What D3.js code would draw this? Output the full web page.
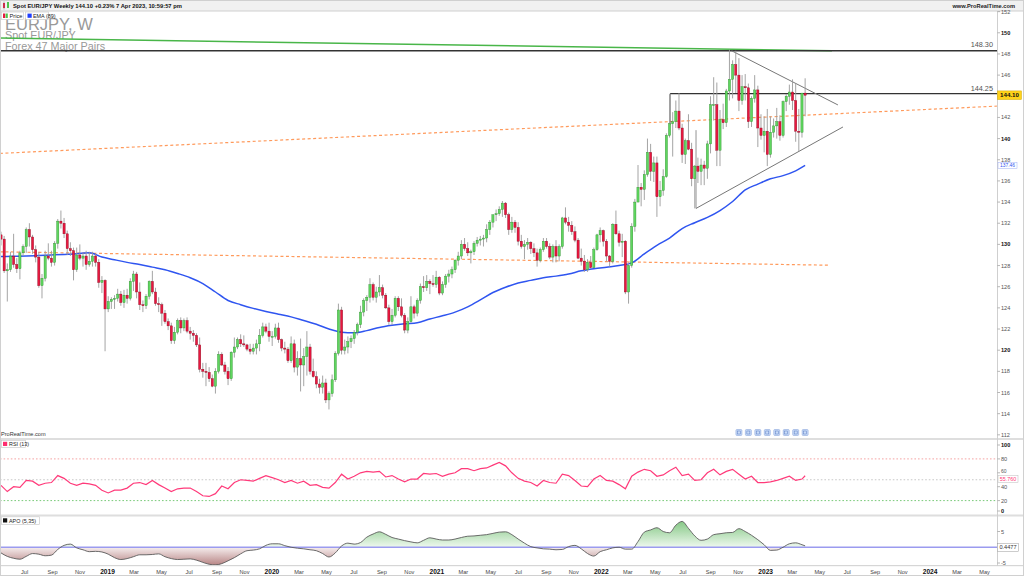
<!DOCTYPE html>
<html><head><meta charset="utf-8">
<script src="https://cdn.jsdelivr.net/npm/d3@7"></script>
<style>
html,body{margin:0;padding:0;background:#fff;}
svg{display:block;font-family:"Liberation Sans",Arial,sans-serif;}
</style></head><body>
<svg id="c" width="1024" height="576"></svg>
<script>
// ---------- DATA (weekly EUR/JPY, first week = 14 May 2018) ----------
const firstWeek = [2018, 4, 14];
const ohlc2018 = [
[130.9,131.2,129.9,130.5],[130.5,130.8,127.3,127.5],[127.5,128.2,124.6,127.6],[127.6,129.3,127.4,128.9],
[128.9,131.0,127.8,128.1],[128.1,128.7,127.3,127.7],[127.7,129.4,126.7,129.2],[129.2,130.0,128.9,129.8],
[129.8,131.6,129.2,131.4],[131.4,132.0,129.8,130.7],[130.7,130.9,129.1,129.5],[129.5,129.9,128.3,128.8],
[128.8,129.3,125.9,126.1],[126.1,127.2,124.9,126.8],[126.8,129.4,126.5,128.9],[128.9,130.1,128.5,128.7],
[128.7,129.4,127.9,128.3],[128.3,130.3,128.0,130.1],[130.1,132.4,129.6,132.2],[132.2,133.2,131.5,132.0],
[132.0,132.5,130.6,131.0],[131.0,131.3,129.0,129.6],[129.6,130.2,128.9,129.4],[129.4,129.7,126.6,127.6],
[127.6,129.7,127.4,129.0],[129.0,130.0,128.5,128.7],[128.7,129.2,127.9,128.9],[128.9,129.4,127.6,128.1],
[128.1,129.3,127.9,128.4],[128.4,129.3,127.9,128.9],[128.9,129.1,127.9,128.3],[128.3,128.6,125.9,126.4],
[126.4,127.0,125.4,126.6]];
const ohlc2019 = [
[126.6,126.7,119.9,123.9],
[123.9,125.1,123.6,124.6],[124.6,125.0,123.9,124.8],[124.8,125.2,123.9,124.9],[124.9,125.8,124.6,125.3],
[125.3,125.6,124.2,124.5],[124.5,125.7,124.0,125.2],[125.2,125.8,124.4,124.9],[124.9,126.8,124.7,126.5],
[126.5,127.5,125.6,127.2],[127.2,127.4,124.9,125.5],[125.5,126.4,123.8,124.3],[124.3,124.7,123.6,124.2],
[124.2,125.3,123.9,125.1],[125.1,126.6,124.8,126.5],[126.5,127.5,125.3,125.5],[125.5,125.9,124.2,124.4],
[124.4,125.0,123.6,124.3],[124.3,124.5,122.3,123.5],[123.5,123.8,122.5,122.7],[122.7,123.0,121.9,122.3],
[122.3,122.6,120.6,120.9],[120.9,122.2,120.6,121.7],[121.7,123.0,121.5,122.8],[122.8,123.1,121.6,122.1],
[122.1,123.0,121.8,122.8],[122.8,123.1,121.6,121.8],[121.8,122.2,121.0,121.6],[121.6,121.9,120.8,121.4],
[121.4,121.6,120.3,120.5],[120.5,121.2,117.9,118.2],[118.2,118.8,117.4,118.0],[118.0,118.8,116.6,117.9],
[117.9,118.4,117.0,117.3],[117.3,117.7,116.5,116.6],[116.6,118.3,115.9,118.0],[118.0,119.9,117.8,119.6],
[119.6,119.8,118.5,118.6],[118.6,118.9,117.7,118.0],[118.0,118.4,116.7,117.3],[117.3,119.9,117.1,119.8],
[119.8,121.2,119.3,120.3],[120.3,121.2,120.1,121.0],[121.0,121.5,120.3,120.6],[120.6,121.4,120.3,120.5],
[120.5,120.6,119.9,120.1],[120.1,120.6,119.6,119.9],[119.9,120.6,119.6,120.2],[120.2,121.0,119.6,120.6],
[120.6,122.0,119.9,121.4],[121.4,122.6,121.2,122.2],[122.2,122.5,121.6,121.8],[121.8,122.6,120.8,121.3]];
const ohlc2020 = [
[121.3,121.8,120.4,121.3],[121.3,122.5,121.1,122.1],[122.1,122.6,120.7,121.0],[121.0,121.1,119.9,120.2],
[120.2,120.8,119.7,120.1],[120.1,120.3,118.8,119.0],[119.0,121.3,118.8,120.6],[120.6,121.0,117.9,118.4],
[118.4,119.9,117.6,119.2],[119.2,121.1,116.1,118.6],[118.6,120.2,116.6,119.4],[119.4,121.8,117.6,120.3],
[120.3,120.6,117.7,118.0],[118.0,119.2,117.4,117.5],[117.5,118.0,116.4,116.8],[116.8,117.3,115.9,116.5],
[116.5,117.6,115.9,116.9],[116.9,117.3,115.0,115.3],[115.3,116.1,114.4,115.9],[115.9,117.7,115.6,117.2],
[117.2,119.9,117.0,119.7],[119.7,124.4,119.5,123.8],[123.8,124.1,119.6,120.0],[120.0,121.0,119.6,120.3],
[120.3,121.3,119.7,120.8],[120.8,121.4,120.2,121.1],[121.1,121.9,120.6,121.7],[121.7,122.6,121.4,122.4],
[122.4,124.2,122.1,123.6],[123.6,124.9,123.2,124.7],[124.7,125.2,123.7,125.0],[125.0,126.8,124.5,126.2],
[126.2,126.4,124.7,125.0],[125.0,126.0,124.5,125.5],[125.5,127.1,125.1,125.9],[125.9,126.2,124.9,125.2],
[125.2,125.4,123.9,124.0],[124.0,124.3,122.4,122.7],[122.7,123.9,122.4,123.3],[123.3,125.1,123.1,124.9],
[124.9,125.1,123.7,124.1],[124.1,124.9,123.1,123.3],[123.3,123.5,121.6,121.9],[121.9,123.1,121.6,122.7],
[122.7,125.1,122.6,124.1],[124.1,124.3,123.0,123.5],[123.5,124.9,123.2,124.7],[124.7,126.3,124.4,126.0],
[126.0,127.0,125.5,125.9],[125.9,127.1,125.6,126.5],[126.5,126.7,125.3,126.3],[126.3,127.1,126.0,126.2]];
const ohlc2021 = [
[126.2,127.5,125.9,126.9],[126.9,127.0,125.2,125.4],[125.4,126.5,125.2,126.2],[126.2,127.2,125.9,127.0],
[127.0,127.6,126.4,127.2],[127.2,127.9,126.8,127.6],[127.6,128.6,127.3,128.5],[128.5,129.3,128.0,128.9],
[128.9,130.4,128.6,130.0],[130.0,130.6,129.4,129.6],[129.6,130.2,128.9,129.2],[129.2,129.5,128.2,129.3],
[129.3,130.3,129.0,130.1],[130.1,130.7,129.8,130.4],[130.4,130.8,129.9,130.5],[130.5,130.9,129.8,130.6],
[130.6,131.9,130.2,131.4],[131.4,132.3,130.9,132.1],[132.1,132.8,131.6,132.8],[132.8,133.3,132.2,132.9],
[132.9,133.6,132.7,133.3],[133.3,134.1,132.6,133.9],[133.9,134.0,132.5,132.8],[132.8,133.0,130.9,131.4],
[131.4,132.6,131.1,132.1],[132.1,132.3,131.1,131.6],[131.6,132.1,129.9,130.3],[130.3,130.9,129.6,129.8],
[129.8,130.4,128.6,130.0],[130.0,130.6,129.5,130.2],[130.2,130.3,129.1,129.6],[129.6,130.1,128.8,129.2],
[129.2,129.6,127.9,128.5],[128.5,129.7,128.3,129.5],[129.5,130.6,129.3,130.3],[130.3,130.6,129.6,129.8],
[129.8,130.1,128.6,128.8],[128.8,130.0,128.3,129.8],[129.8,130.4,128.3,128.9],[128.9,130.0,128.4,129.8],
[129.8,132.6,129.6,132.5],[132.5,133.5,131.9,132.1],[132.1,132.6,131.2,131.8],[131.8,132.2,130.9,131.2],
[131.2,131.7,130.2,130.4],[130.4,130.6,128.6,128.7],[128.7,129.6,128.0,128.4],[128.4,129.0,127.4,127.6],
[127.6,128.6,127.4,128.3],[128.3,128.9,127.7,127.8],[127.8,129.7,127.8,129.5],[129.5,131.0,129.4,130.9]];
const ohlc2022 = [
[130.9,131.6,130.2,131.3],[131.3,131.4,129.8,130.3],[130.3,130.5,128.4,128.9],[128.9,129.0,127.9,128.4],
[128.4,132.0,128.2,131.9],[131.9,133.2,130.9,131.0],[131.0,131.3,129.8,130.2],[130.2,131.0,128.8,130.3],
[130.3,130.4,125.3,125.5],[125.5,128.3,124.4,128.0],[128.0,132.0,127.8,131.7],[131.7,134.3,131.2,134.0],
[134.0,137.5,134.0,135.4],[135.4,135.8,133.6,135.2],[135.2,137.0,134.2,136.6],[136.6,140.0,136.4,138.7],
[138.7,139.5,136.0,136.9],[136.9,138.3,135.9,137.7],[137.7,138.3,132.6,134.5],[134.5,136.0,133.6,135.1],
[135.1,137.1,134.6,136.4],[136.4,140.5,136.3,140.3],[140.3,144.2,140.1,141.4],[141.4,142.5,138.3,141.6],
[141.6,143.6,141.0,142.6],[142.6,144.3,140.8,141.0],[141.0,141.4,137.7,138.5],[138.5,140.0,137.6,139.8],
[139.8,142.3,138.9,139.0],[139.0,139.6,135.5,136.2],[136.2,137.5,133.4,137.4],[137.4,138.2,135.8,136.9],
[136.9,138.1,135.6,137.5],[137.5,137.9,135.6,137.2],[137.2,139.8,136.2,139.5],[139.5,144.0,138.6,143.2],
[143.2,145.8,141.7,143.2],[143.2,145.3,137.4,138.9],[138.9,142.7,137.4,141.8],[141.8,143.3,140.9,141.5],
[141.5,144.7,141.1,144.5],[144.5,148.4,143.6,145.6],[145.6,147.4,143.8,147.0],[147.0,148.3,144.3,146.0],
[146.0,147.6,142.6,143.6],[143.6,146.0,143.2,144.9],[144.9,146.1,143.6,144.8],[144.8,145.2,141.0,141.6],
[141.6,144.0,141.1,143.8],[143.8,146.0,143.4,144.6],[144.6,145.0,139.2,141.0],[141.0,142.3,139.9,140.3]];
const ohlc2023 = [
[140.3,142.1,138.7,140.7],[140.7,142.8,137.4,138.5],[138.5,142.1,138.2,140.6],[140.6,141.9,140.1,141.2],
[141.2,142.9,140.0,141.6],[141.6,142.2,139.8,140.3],[140.3,143.6,140.1,143.5],[143.5,144.2,142.6,144.0],
[144.0,145.1,143.2,144.4],[144.4,145.6,142.7,143.6],[143.6,145.2,139.7,140.7],[140.7,142.8,138.8,140.6],
[140.6,144.3,140.1,144.3],[144.3,145.7,142.1,144.1]];

// EMA(89): [week index, value]
const ema89 = [[0,128.85],[4,128.87],[8,128.9],[12,128.95],[16,129.0],[20,129.05],[24,129.12],[28,129.2],
[32,128.8],[36,128.55],[40,128.3],[44,128.1],[48,127.85],[52,127.6],[56,127.25],[60,126.85],[64,126.3],
[68,125.5],[72,124.7],[76,124.3],[80,123.95],[84,123.65],[88,123.4],[92,123.15],[96,122.8],[100,122.45],
[104,122.0],[108,121.7],[112,121.65],[116,121.85],[120,122.15],[124,122.35],[128,122.5],[132,122.6],
[136,122.95],[140,123.25],[144,123.6],[148,124.1],[152,124.75],[156,125.45],[160,125.95],[164,126.35],
[168,126.6],[172,126.85],[176,127.0],[180,127.2],[184,127.5],[188,127.7],[192,127.85],[196,128.0],
[200,128.25],[204,129.1],[208,129.9],[212,130.6],[216,131.5],[220,132.05],[224,132.55],[228,133.2],
[232,134.05],[236,135.15],[240,135.7],[244,136.2],[248,136.5],[252,136.95],[255,137.46]];

// RSI(13): [week index, value]
const rsi13 = [[0,42],[2,33],[4,40],[6,39],[8,49],[10,48],[12,42],[14,45],[16,46],[18,56],[20,52],[22,45],
[24,42],[26,45],[28,44],[30,42],[32,35],[34,31],[36,35],[38,35],[40,38],[42,45],[44,46],[46,43],[48,49],
[50,43],[52,38],[54,33],[56,37],[58,38],[60,38],[62,33],[64,27],[66,26],[68,30],[70,41],[72,37],[74,46],
[76,50],[78,49],[80,48],[82,52],[84,56],[86,53],[88,50],[90,46],[92,49],[94,45],[96,48],[98,42],[100,43],
[102,39],[104,38],[106,46],[108,58],[110,51],[112,55],[114,60],[116,62],[118,61],[120,62],[122,54],
[124,56],[126,51],[128,47],[130,51],[132,51],[134,59],[136,58],[138,59],[140,55],[142,58],[144,60],
[146,66],[148,66],[150,63],[152,66],[154,67],[156,71],[158,75],[160,70],[162,60],[164,52],[166,48],
[168,46],[170,41],[172,49],[174,46],[176,45],[178,58],[180,56],[182,49],[184,41],[186,40],[188,51],
[190,56],[192,49],[194,48],[196,43],[198,37],[200,55],[202,61],[204,65],[206,63],[208,55],[210,57],
[212,63],[214,68],[216,56],[218,58],[220,49],[222,50],[224,60],[226,65],[228,57],[230,62],[232,65],
[234,58],[236,51],[238,55],[240,46],[242,46],[244,47],[246,49],[248,52],[250,55],[252,49],[254,51],[255,55.76]];

// APO(5,35): [week index, value]
const apo535 = [[0,-1.8],[2,-2.9],[4,-3.5],[6,-3.8],[8,-2.9],[10,-2.0],[12,-2.2],[14,-2.7],[16,-2.5],
[18,-0.7],[20,0.6],[22,1.0],[24,-0.2],[26,-0.8],[28,-1.4],[30,-1.3],[32,-1.5],[34,-2.2],[36,-3.3],
[38,-3.9],[40,-3.6],[42,-3.0],[44,-2.4],[46,-2.4],[48,-2.3],[50,-2.1],[52,-3.0],[54,-3.6],[56,-3.9],
[58,-3.8],[60,-3.7],[62,-4.1],[64,-4.8],[66,-5.4],[68,-5.6],[70,-5.2],[72,-4.3],[74,-3.3],[76,-2.1],
[78,-1.1],[80,-0.9],[82,-0.5],[84,0.6],[86,1.1],[88,1.1],[90,0.5],[92,0.0],[94,-0.3],[96,-0.5],
[98,-0.8],[100,-1.1],[102,-2.0],[104,-3.1],[106,-1.8],[108,0.4],[110,1.3],[112,1.0],[114,1.5],
[116,3.2],[118,4.2],[120,4.9],[122,4.1],[124,3.1],[126,2.6],[128,2.1],[130,1.7],[132,1.4],[134,2.2],
[136,3.0],[138,2.6],[140,2.3],[142,2.3],[144,2.6],[146,3.1],[148,3.5],[150,3.6],[152,3.8],[154,4.0],
[156,4.4],[158,4.8],[160,4.9],[162,4.0],[164,2.6],[166,1.3],[168,0.2],[170,-0.2],[172,-0.5],[174,-0.6],
[176,-0.8],[178,-0.7],[180,0.2],[182,0.6],[184,-0.5],[186,-2.0],[188,-2.8],[190,-1.4],[192,-0.8],
[194,-0.2],[196,0.0],[198,-0.6],[200,-0.6],[202,1.8],[204,4.8],[206,5.5],[208,6.2],[210,5.0],[212,4.6],
[214,7.0],[216,8.2],[218,6.0],[220,3.6],[222,2.2],[224,2.6],[226,4.0],[228,4.3],[230,4.6],[232,4.7],
[234,5.9],[236,5.0],[238,3.8],[240,2.4],[242,0.8],[244,-1.0],[246,-0.9],[248,0.0],[250,1.1],[252,1.4],
[254,0.8],[255,0.4477]];

// drawn lines: [week index, price]
const greenTrend = [[-0.32,149.5],[263.5,148.3]];
const levelTop = 148.30;
const levelMid = 144.25, levelMidStart = 212.2;
const triUpper = [[231.7,148.3],[265.4,143.18]];
const triLower = [[220.4,133.4],[267.0,141.1]];
const triLeft = [[220.4,133.4],[220.4,140.8]];
const orangeUpper = [[-0.32,138.6],[315.8,143.07]];
const orangeLower = [[-0.32,129.3],[262.9,128.03]];
const eventWeeks = [234,237,240,243,246,249,252,255];
const priceTicks = d3.range(112,153,2);
const rsiTicks = [100,80,60,40,20,0];
const apoTicks = [5,-5];
const lastPrice = 144.10, lastEma = 137.46, lastRsi = 55.760, lastApo = 0.4477;

// ---------- SCALES ----------
const DAY = 864e5;
const t0 = new Date(firstWeek[0], firstWeek[1], firstWeek[2]).getTime();
const wdate = k => new Date(t0 + k*7*DAY);
const PR = 997;
const x = d3.scaleTime().domain([new Date(t0-2.22*DAY), new Date(t0+2210.9*DAY)]).range([0,PR]);
const y = d3.scaleLinear().domain([111.7,152.06]).range([438,11]);
const yR = d3.scaleLinear().domain([0,100]).range([514.5,445]);
const yA = d3.scaleLinear().domain([-5,5]).range([563,531.5]);
const xk = k => x(wdate(k));

const candles = [...ohlc2018,...ohlc2019,...ohlc2020,...ohlc2021,...ohlc2022,...ohlc2023]
  .map((d,i)=>({k:i,o:d[0],h:d[1],l:d[2],c:d[3]}));

const svg = d3.select("#c");
const defs = svg.append("defs");
function clip(id,x0,y0,w,h){defs.append("clipPath").attr("id",id).append("rect").attr("x",x0).attr("y",y0).attr("width",w).attr("height",h);}
clip("cm",0,11.5,PR,426.5); clip("cr",0,440,PR,74); clip("ca",0,516.5,PR,48.5);
clip("apos",0,516.5,PR,yA(0)-516.5); clip("aneg",0,yA(0),PR,565-yA(0));
const gp = defs.append("linearGradient").attr("id","gpos").attr("gradientUnits","userSpaceOnUse")
  .attr("x1",0).attr("x2",0).attr("y1",519).attr("y2",yA(0));
gp.append("stop").attr("offset",0).attr("stop-color","#7cc47c");
gp.append("stop").attr("offset",1).attr("stop-color","#eef8ee");
const gn = defs.append("linearGradient").attr("id","gneg").attr("gradientUnits","userSpaceOnUse")
  .attr("x1",0).attr("x2",0).attr("y1",yA(0)).attr("y2",565);
gn.append("stop").attr("offset",0).attr("stop-color","#f6eeee");
gn.append("stop").attr("offset",1).attr("stop-color","#b88585");

svg.append("rect").attr("width",1024).attr("height",576).attr("fill","#fff");

// header
svg.append("rect").attr("x",0).attr("y",0).attr("width",1024).attr("height",11).attr("fill","#f1f1f1");
svg.append("line").attr("x1",0).attr("x2",1024).attr("y1",11).attr("y2",11).attr("stroke","#cfcfcf");
svg.append("rect").attr("x",3).attr("y",3).attr("width",2).attr("height",5).attr("fill","#e8173f");
svg.append("line").attr("x1",4).attr("x2",4).attr("y1",1.5).attr("y2",9.5).attr("stroke","#777").attr("stroke-width",0.5);
svg.append("rect").attr("x",7).attr("y",2).attr("width",2).attr("height",6).attr("fill","#4cc44c");
svg.append("text").attr("x",13).attr("y",8.3).attr("font-size",5.8).attr("font-weight","bold").attr("fill","#111")
  .text("Spot EUR/JPY Weekly 144.10 +0.23% 7 Apr 2023, 10:59:57 pm");
svg.append("text").attr("x",1015).attr("y",8.3).attr("text-anchor","end").attr("font-size",5.7).attr("font-weight","bold").attr("fill","#222")
  .text("www.ProRealTime.com");

// watermark (drawn below the legend tabs, as in the original)
const wm = svg.append("g").attr("fill","#999");
wm.append("text").attr("x",5).attr("y",29.5).attr("font-size",16.5).text("EURJPY, W");
wm.append("text").attr("x",5).attr("y",38.8).attr("font-size",10.8).text("Spot EUR/JPY");
wm.append("text").attr("x",5).attr("y",50).attr("font-size",10.8).text("Forex 47 Major Pairs");

// separators
svg.append("rect").attr("x",0).attr("y",438).attr("width",1024).attr("height",2).attr("fill","#dedede");
svg.append("rect").attr("x",0).attr("y",514.5).attr("width",1024).attr("height",2).attr("fill","#dedede");
svg.append("rect").attr("x",0).attr("y",565).attr("width",1024).attr("height",1.2).attr("fill","#d6d6d6");
svg.append("line").attr("x1",PR+0.5).attr("x2",PR+0.5).attr("y1",11).attr("y2",566).attr("stroke","#cfcfcf");
svg.append("line").attr("x1",0.5).attr("x2",0.5).attr("y1",11).attr("y2",566).attr("stroke","#d6d6d6");

// ---------- MAIN PANEL ----------
const gm = svg.append("g").attr("clip-path","url(#cm)");
const seg = (pts,stroke,w,dash) => gm.append("line")
  .attr("x1",xk(pts[0][0])).attr("y1",y(pts[0][1])).attr("x2",xk(pts[1][0])).attr("y2",y(pts[1][1]))
  .attr("stroke",stroke).attr("stroke-width",w).attr("stroke-dasharray",dash||null);
seg(orangeUpper,"#ff9a5c",1.2,"3,2.5");
seg(orangeLower,"#ff9a5c",1.2,"3,2.5");
seg(greenTrend,"#49b649",1.5);
gm.append("line").attr("x1",0).attr("x2",PR).attr("y1",y(levelTop)).attr("y2",y(levelTop)).attr("stroke","#333").attr("stroke-width",1.4);
gm.append("line").attr("x1",xk(levelMidStart)).attr("x2",PR).attr("y1",y(levelMid)).attr("y2",y(levelMid)).attr("stroke","#333").attr("stroke-width",1.4);
gm.append("line").attr("x1",xk(levelMidStart)).attr("x2",xk(levelMidStart)).attr("y1",y(levelMid)).attr("y2",y(141.3)).attr("stroke","#555").attr("stroke-width",0.8);
seg(triUpper,"#777",1);
seg(triLower,"#777",1);
seg(triLeft,"#777",0.8);

// EMA
gm.append("path").datum(ema89).attr("fill","none").attr("stroke","#2f55f0").attr("stroke-width",1.5)
  .attr("d",d3.line().x(d=>xk(d[0])).y(d=>y(d[1])).curve(d3.curveMonotoneX));

// candles
const bw = 2.2;
const cg = gm.append("g");
cg.selectAll("line.w").data(candles).join("line").attr("class","w")
  .attr("x1",d=>xk(d.k)).attr("x2",d=>xk(d.k)).attr("y1",d=>y(d.h)).attr("y2",d=>y(d.l))
  .attr("stroke","#9a9a9a").attr("stroke-width",0.9);
cg.selectAll("rect").data(candles).join("rect")
  .attr("x",d=>xk(d.k)-bw/2).attr("width",bw)
  .attr("y",d=>y(Math.max(d.o,d.c))).attr("height",d=>Math.max(0.8,Math.abs(y(d.o)-y(d.c))))
  .attr("fill",d=>d.c>=d.o?"#5fd65f":"#e8173f")
  .attr("stroke",d=>d.c>=d.o?"#2f8f2f":"#8a0c22").attr("stroke-width",0.4);

// level labels
svg.append("text").attr("x",993).attr("y",y(levelTop)-3.5).attr("text-anchor","end").attr("font-size",7.3).attr("fill","#555").text("148.30");
svg.append("text").attr("x",993).attr("y",y(levelMid)-2.5).attr("text-anchor","end").attr("font-size",7.3).attr("fill","#555").text("144.25");

// legend
svg.append("rect").attr("x",1.5).attr("y",12).attr("width",22).attr("height",7.5).attr("fill","#fff").attr("stroke","#c4c4c4").attr("stroke-width",0.6);
svg.append("rect").attr("x",3).attr("y",13.5).attr("width",2.2).attr("height",4.5).attr("fill","#e8173f");
svg.append("rect").attr("x",5.6).attr("y",13.5).attr("width",2.2).attr("height",4.5).attr("fill","#4cc44c");
svg.append("text").attr("x",9.5).attr("y",18).attr("font-size",5.7).attr("fill","#222").text("Price");
svg.append("rect").attr("x",25.5).attr("y",12).attr("width",23).attr("height",7.5).attr("fill","#fff").attr("stroke","#c4c4c4").attr("stroke-width",0.6);
svg.append("rect").attr("x",27.5).attr("y",13.6).attr("width",4.2).attr("height",4.2).attr("fill","#1f3fff");
svg.append("text").attr("x",33).attr("y",18).attr("font-size",5.4).attr("fill","#222").text("EMA (89)");

// ProRealTime mark + events
svg.append("text").attr("x",1).attr("y",436.3).attr("font-size",5.6).attr("fill","#333").text("ProRealTime.com");
const ev = svg.append("g");
eventWeeks.forEach(k=>{
  ev.append("rect").attr("x",xk(k)-3).attr("y",429.5).attr("width",6).attr("height",6).attr("rx",1)
    .attr("fill","#c9dbf7").attr("stroke","#7d9bd6").attr("stroke-width",0.5);
  ev.append("rect").attr("x",xk(k)-1.5).attr("y",431).attr("width",3).attr("height",3).attr("fill","none").attr("stroke","#5a7cc4").attr("stroke-width",0.5);
});

// price axis (labels hidden behind the current-price box are skipped, as in the original)
const ax = svg.append("g");
priceTicks.forEach(p=>{
  ax.append("line").attr("x1",PR+0.5).attr("x2",PR+3).attr("y1",y(p)).attr("y2",y(p)).attr("stroke","#888").attr("stroke-width",0.6);
  if (Math.abs(y(p)-y(lastPrice))<8) return;
  ax.append("text").attr("x",PR+4).attr("y",y(p)+2).attr("font-size",5.6)
    .attr("font-weight",p%10===0?"bold":"normal").attr("fill",p%10===0?"#111":"#555").text(p);
});
// current price box
ax.append("rect").attr("x",PR+0.5).attr("y",y(lastPrice)-4.3).attr("width",24).attr("height",8.6).attr("fill","#ffd21a").attr("stroke","#d4a900").attr("stroke-width",0.5);
ax.append("text").attr("x",PR+12.5).attr("y",y(lastPrice)+2.2).attr("text-anchor","middle").attr("font-size",6.2).attr("font-weight","bold").attr("fill","#111").text(lastPrice.toFixed(2));
ax.append("rect").attr("x",PR+1).attr("y",y(lastEma)-3.2).attr("width",19).attr("height",6.4).attr("fill","#fff").attr("stroke","#9fb0f5").attr("stroke-width",0.5);
ax.append("text").attr("x",PR+10.5).attr("y",y(lastEma)+1.7).attr("text-anchor","middle").attr("font-size",4.9).attr("fill","#2f55f0").text(lastEma.toFixed(2));

// ---------- RSI PANEL ----------
const gr = svg.append("g").attr("clip-path","url(#cr)");
[[80,"#f5a3a3"],[50,"#c8c8c8"],[20,"#79c979"]].forEach(([v,c])=>{
  gr.append("line").attr("x1",0).attr("x2",PR).attr("y1",yR(v)).attr("y2",yR(v)).attr("stroke",c).attr("stroke-width",1).attr("stroke-dasharray","1.6,2");
});
gr.append("path").datum(rsi13).attr("fill","none").attr("stroke","#ff3a7a").attr("stroke-width",1.2)
  .attr("d",d3.line().x(d=>xk(d[0])).y(d=>yR(d[1])));
svg.append("rect").attr("x",1.5).attr("y",440.5).attr("width",24).attr("height",7).attr("fill","#fff").attr("stroke","#c4c4c4").attr("stroke-width",0.6);
svg.append("rect").attr("x",3).attr("y",441.8).attr("width",4.2).attr("height",4.2).attr("fill","#ff2d6f");
svg.append("text").attr("x",9).attr("y",446.2).attr("font-size",5.4).attr("fill","#222").text("RSI (13)");
rsiTicks.forEach(v=>{
  const yy = Math.min(yR(v),511);
  svg.append("line").attr("x1",PR+0.5).attr("x2",PR+3).attr("y1",yy).attr("y2",yy).attr("stroke","#888").attr("stroke-width",0.6);
  svg.append("text").attr("x",PR+4).attr("y",(v===60?yy+0.6:yy+2)).attr("font-size",(v===60?5:5.6))
    .attr("font-weight",(v===100||v===0)?"bold":"normal").attr("fill",(v===100||v===0)?"#111":"#555").text(v);
});
svg.append("rect").attr("x",PR+1).attr("y",yR(lastRsi)-0.5).attr("width",20).attr("height",7.5).attr("fill","#fff").attr("stroke","#bbb").attr("stroke-width",0.5);
svg.append("text").attr("x",PR+11).attr("y",yR(lastRsi)+5).attr("text-anchor","middle").attr("font-size",5.4).attr("fill","#ff3a7a").text(lastRsi.toFixed(3));

// ---------- APO PANEL ----------
const ga = svg.append("g").attr("clip-path","url(#ca)");
const apoArea = d3.area().x(d=>xk(d[0])).y0(yA(0)).y1(d=>yA(d[1])).curve(d3.curveMonotoneX);
ga.append("path").datum(apo535).attr("d",apoArea).attr("fill","url(#gpos)").attr("clip-path","url(#apos)");
ga.append("path").datum(apo535).attr("d",apoArea).attr("fill","url(#gneg)").attr("clip-path","url(#aneg)");
ga.append("line").attr("x1",0).attr("x2",PR).attr("y1",yA(0)).attr("y2",yA(0)).attr("stroke","#9b9bef").attr("stroke-width",1.6);
ga.append("path").datum(apo535).attr("fill","none").attr("stroke","#5a5a5a").attr("stroke-width",0.9)
  .attr("d",d3.line().x(d=>xk(d[0])).y(d=>yA(d[1])).curve(d3.curveMonotoneX));
svg.append("rect").attr("x",1.5).attr("y",516.8).attr("width",38).attr("height",7.5).attr("fill","#fff").attr("stroke","#c4c4c4").attr("stroke-width",0.6);
svg.append("rect").attr("x",3).attr("y",518.3).attr("width",4.2).attr("height",4.2).attr("fill","#111");
svg.append("text").attr("x",9).attr("y",522.6).attr("font-size",5.4).attr("fill","#222").text("APO (5,35)");
apoTicks.forEach(v=>{
  svg.append("line").attr("x1",PR+0.5).attr("x2",PR+3).attr("y1",yA(v)).attr("y2",yA(v)).attr("stroke","#888").attr("stroke-width",0.6);
  svg.append("text").attr("x",PR+4).attr("y",yA(v)+2).attr("font-size",5.6).attr("fill","#555").text(v);
});
svg.append("rect").attr("x",PR+0.5).attr("y",yA(lastApo)-2.3).attr("width",21).attr("height",8).attr("fill","#fff").attr("stroke","#999").attr("stroke-width",0.5);
svg.append("text").attr("x",PR+11).attr("y",yA(lastApo)+3.5).attr("text-anchor","middle").attr("font-size",5.6).attr("fill","#333").text(lastApo.toFixed(4));

// ---------- TIME AXIS ----------
const months = d3.timeMonth.range(new Date(2018,6,1), new Date(2024,5,2), 2);
const fm = d3.timeFormat("%b"), fy = d3.timeFormat("%Y");
const ta = svg.append("g");
months.forEach(m=>{
  const isY = m.getMonth()===0;
  ta.append("text").attr("x",x(m)+2).attr("y",573.5).attr("text-anchor","middle")
    .attr("font-size",isY?6.6:5.6).attr("font-weight",isY?"bold":"normal").attr("fill",isY?"#111":"#444")
    .text(isY?fy(m):fm(m));
});
svg.append("rect").attr("x",0.5).attr("y",0.5).attr("width",1023).attr("height",575).attr("fill","none").attr("stroke","#d0d0d0");
</script>
</body></html>
